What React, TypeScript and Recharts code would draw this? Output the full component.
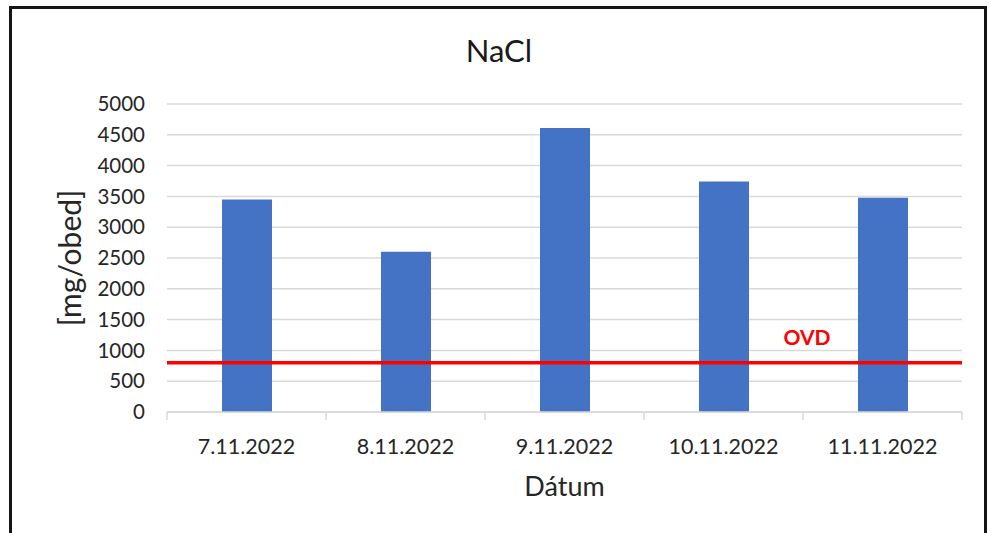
import { BarChart, Bar, XAxis, YAxis, CartesianGrid, ReferenceLine } from "recharts";

const dates = ["7.11.2022", "8.11.2022", "9.11.2022", "10.11.2022", "11.11.2022"];
const nacl = [3450, 2600, 4610, 3740, 3480];
const yTicks = [0, 500, 1000, 1500, 2000, 2500, 3000, 3500, 4000, 4500, 5000];
const ovdValue = 800;

// slot = middle of each category on a numeric copy of the x axis
const data = dates.map((d, i) => ({ date: d, slot: i + 0.5, nacl: nacl[i] }));

// borders at 0..5, labels at the half steps
const edgeTicks = [0, 0.5, 1, 1.5, 2, 2.5, 3, 3.5, 4, 4.5, 5];

const FONT = "Lato, 'Open Sans', sans-serif";

const EdgeTick = (props: any) => {
  const { x, y, payload } = props;
  const v = payload.value;
  if (Number.isInteger(v)) {
    return <line x1={x} y1={y} x2={x} y2={y + 8} stroke="#d9d9d9" strokeWidth={1.5} />;
  }
  return (
    <text
      x={x}
      y={y + 42}
      textAnchor="middle"
      fill="#262626"
      fontSize={21.5}
      fontFamily={FONT}
    >
      {dates[Math.floor(v)]}
    </text>
  );
};

// OVD tag sits just above the red line, near the 4th/5th category border
const OvdLabel = (props: any) => {
  const { viewBox } = props;
  if (!viewBox) return null;
  return (
    <text
      x={viewBox.x + viewBox.width * 0.805}
      y={viewBox.y - 18}
      textAnchor="middle"
      fill="#ff0000"
      fontWeight={700}
      fontSize={21}
      fontFamily={FONT}
    >
      OVD
    </text>
  );
};

export default function App() {
  return (
    <div style={{ position: "absolute", left: 0, top: 0, width: 989, height: 533, overflow: "hidden", background: "#fff" }}>
      {/* frame of the pasted chart */}
      <div
        style={{
          position: "absolute",
          left: 9,
          top: 6,
          width: 978,
          height: 560,
          border: "3px solid #151515",
          boxSizing: "border-box",
        }}
      />
      <div
        style={{
          position: "absolute",
          left: 0,
          width: 998,
          top: 31,
          textAlign: "center",
          fontFamily: FONT,
          fontSize: 31,
          color: "#1a1a1a",
        }}
      >
        NaCl
      </div>
      <div style={{ position: "absolute", left: 0, top: 0 }}>
        <BarChart
          width={989}
          height={533}
          data={data}
          margin={{ top: 104, right: 27, left: 37, bottom: 34 }}
          barSize={50}
        >
          <CartesianGrid vertical={false} stroke="#d9d9d9" strokeWidth={1.5} />
          <XAxis dataKey="date" hide height={0} />
          <XAxis
            xAxisId="edges"
            dataKey="slot"
            type="number"
            domain={[0, 5]}
            allowDataOverflow
            ticks={edgeTicks}
            interval={0}
            height={87}
            axisLine={{ stroke: "#d9d9d9", strokeWidth: 1.5 }}
            tickLine={false}
            tickSize={0}
            tickMargin={0}
            tick={<EdgeTick />}
            label={{
              value: "Dátum",
              position: "insideBottom",
              offset: 3,
              fill: "#262626",
              fontSize: 27,
              fontFamily: FONT,
            }}
          />
          <YAxis
            width={130}
            domain={[0, 5000]}
            ticks={yTicks}
            interval={0}
            axisLine={false}
            tickLine={false}
            tickSize={0}
            tickMargin={22}
            tick={{ fill: "#262626", fontSize: 20.5, fontFamily: FONT }}
            label={{
              value: "[mg/obed]",
              angle: -90,
              position: "insideLeft",
              offset: 33,
              fill: "#262626",
              fontSize: 30,
              fontFamily: FONT,
              style: { textAnchor: "middle" },
            }}
          />
          <Bar dataKey="nacl" fill="#4472c4" isAnimationActive={false} />
          <ReferenceLine
            y={ovdValue}
            stroke="#ff0000"
            strokeWidth={3.5}
            label={<OvdLabel />}
          />
        </BarChart>
      </div>
    </div>
  );
}
